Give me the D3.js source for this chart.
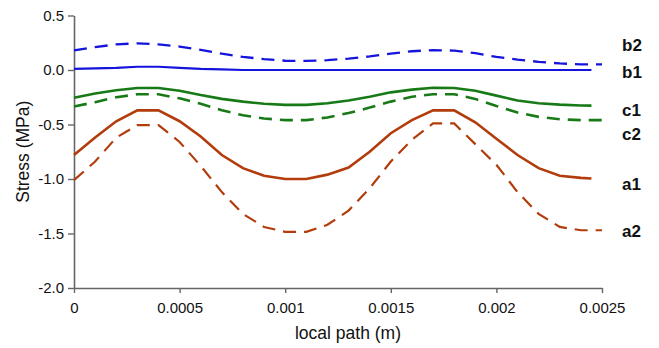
<!DOCTYPE html>
<html>
<head>
<meta charset="utf-8">
<script src="https://cdn.jsdelivr.net/npm/d3@7"></script>
<style>
  body { margin: 0; background: #fff; }
  text { font-family: "Liberation Sans", Arial, sans-serif; fill: #111; }
</style>
</head>
<body>
<div id="chart"></div>
<script>
// x positions (m)
const xSolid = [0, 0.0001, 0.0002, 0.0003, 0.0004, 0.0005, 0.0006, 0.0007, 0.0008, 0.0009, 0.001, 0.0011, 0.0012,
  0.0013, 0.0014, 0.0015, 0.0016, 0.0017, 0.0018, 0.0019, 0.002, 0.0021, 0.0022, 0.0023, 0.0024, 0.00245];
const xDashed = [0, 0.0001, 0.0002, 0.0003, 0.0004, 0.0005, 0.0006, 0.0007, 0.0008, 0.0009, 0.001, 0.0011, 0.0012,
  0.0013, 0.0014, 0.0015, 0.0016, 0.0017, 0.0018, 0.0019, 0.002, 0.0021, 0.0022, 0.0023, 0.0024, 0.0025];

// stress values (MPa)
const a1 = [-0.78, -0.62, -0.47, -0.37, -0.37, -0.47, -0.61, -0.78, -0.9, -0.97, -1.0, -1.0, -0.96,
  -0.895, -0.75, -0.58, -0.46, -0.37, -0.37, -0.48, -0.63, -0.78, -0.9, -0.97, -0.99, -0.995];
const a2 = [-1.01, -0.84, -0.62, -0.505, -0.505, -0.66, -0.88, -1.12, -1.32, -1.44, -1.485, -1.485, -1.42,
  -1.29, -1.085, -0.84, -0.64, -0.49, -0.49, -0.68, -0.87, -1.12, -1.32, -1.44, -1.47, -1.47];
const b1 = [0.01, 0.015, 0.02, 0.03, 0.03, 0.02, 0.01, 0.005, 0, 0, 0, 0, 0,
  0, 0, 0, 0, 0, 0, 0, 0, 0, 0, 0, 0, 0];
const b2 = [0.18, 0.21, 0.235, 0.245, 0.235, 0.215, 0.185, 0.15, 0.12, 0.1, 0.085, 0.083, 0.09,
  0.105, 0.125, 0.15, 0.172, 0.183, 0.178, 0.155, 0.12, 0.095, 0.075, 0.06, 0.052, 0.052];
const c1 = [-0.255, -0.215, -0.185, -0.165, -0.165, -0.19, -0.23, -0.265, -0.29, -0.31, -0.32, -0.32, -0.305,
  -0.28, -0.245, -0.205, -0.18, -0.163, -0.165, -0.19, -0.235, -0.28, -0.305, -0.318, -0.325, -0.327];
const c2 = [-0.335, -0.295, -0.25, -0.223, -0.223, -0.26, -0.31, -0.37, -0.415, -0.445, -0.46, -0.46, -0.435,
  -0.395, -0.345, -0.29, -0.245, -0.222, -0.222, -0.265, -0.33, -0.39, -0.43, -0.452, -0.46, -0.46];

const xTicks = [0, 0.0005, 0.001, 0.0015, 0.002, 0.0025];
const xTickLabels = ["0", "0.0005", "0.001", "0.0015", "0.002", "0.0025"];
const yTicks = [0.5, 0, -0.5, -1, -1.5, -2];
const yTickLabels = ["0.5", "0.0", "-0.5", "-1.0", "-1.5", "-2.0"];

const seriesNames = ["b2", "b1", "c1", "c2", "a1", "a2"];

const width = 659, height = 348;
const colors = { blue: "#1414dc", green: "#177a17", brown: "#b23c0c" };

const series = [
  { name: "b2", x: xDashed, y: b2, color: colors.blue, dash: "13,8", w: 2.3 },
  { name: "b1", x: xSolid, y: b1, color: colors.blue, dash: null, w: 2.2 },
  { name: "c1", x: xSolid, y: c1, color: colors.green, dash: null, w: 2.6 },
  { name: "c2", x: xDashed, y: c2, color: colors.green, dash: "13,8", w: 2.6 },
  { name: "a1", x: xSolid, y: a1, color: colors.brown, dash: null, w: 2.6 },
  { name: "a2", x: xDashed, y: a2, color: colors.brown, dash: "13,8", w: 2.2 }
];

//label baselines in pixels
const labelBase = { b2: 51, b1: 77.5, c1: 116, c2: 140, a1: 190, a2: 236.5 };

const svg = d3.select("#chart").append("svg")
  .attr("width", width)
  .attr("height", height);

const x = d3.scaleLinear().domain([0, 0.0025]).range([74, 602]);
const y = d3.scaleLinear().domain([-2, 0.5]).range([288, 15.5]);

// axes
const xAxis = svg.append("g")
  .attr("transform", `translate(0,${y(-2)})`)
  .call(d3.axisBottom(x).tickValues(xTicks).tickFormat((d, i) => xTickLabels[i]).tickSize(5).tickSizeOuter(0).tickPadding(9));
const yAxis = svg.append("g")
  .attr("transform", `translate(${x(0)},0)`)
  .call(d3.axisLeft(y).tickValues(yTicks).tickFormat((d, i) => yTickLabels[i]).tickSize(6).tickSizeOuter(0).tickPadding(4));

[xAxis, yAxis].forEach(g => {
  g.select(".domain").attr("stroke", "#666").attr("stroke-width", 1.6);
  g.selectAll(".tick line").attr("stroke", "#666").attr("stroke-width", 1.4);
  g.selectAll(".tick text").attr("font-size", 15).attr("fill", "#111")
    .attr("font-family", "Liberation Sans, Arial, sans-serif");
});

// lines
const line = d3.line().x(d => x(d[0])).y(d => y(d[1]));
svg.append("g")
  .selectAll("path")
  .data(series)
  .join("path")
  .attr("d", s => line(s.x.map((v, i) => [v, s.y[i]])))
  .attr("fill", "none")
  .attr("stroke", s => s.color)
  .attr("stroke-width", s => s.w)
  .attr("stroke-dasharray", s => s.dash);

// series labels
svg.append("g")
  .selectAll("text")
  .data(seriesNames)
  .join("text")
  .attr("x", 622)
  .attr("y", d => labelBase[d])
  .attr("font-size", 17)
  .attr("font-weight", "bold")
  .text(d => d);

// axis titles
svg.append("text")
  .attr("x", 348)
  .attr("y", 339)
  .attr("text-anchor", "middle")
  .attr("font-size", 17.5)
  .text("local path (m)");

svg.append("text")
  .attr("transform", `translate(29,${(y(0.5) + y(-2)) / 2}) rotate(-90)`)
  .attr("text-anchor", "middle")
  .attr("font-size", 17.5)
  .text("Stress (MPa)");
</script>
</body>
</html>
